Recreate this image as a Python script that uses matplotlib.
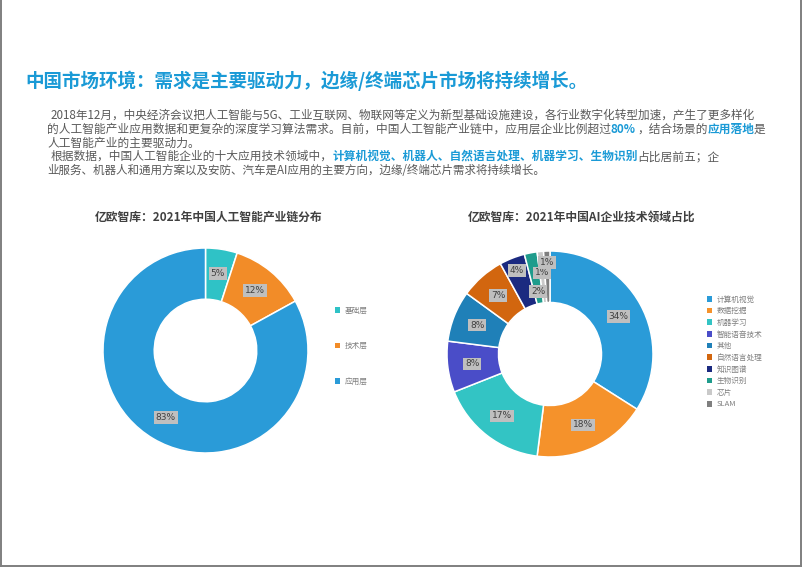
import matplotlib
matplotlib.use("Agg")
import matplotlib.pyplot as plt
from matplotlib.patches import Patch
from matplotlib.lines import Line2D
import numpy as np

plt.rcParams['font.family'] = ['Noto Sans CJK SC', 'DejaVu Sans']

W, H = 802, 567

# ---- data ----
chain_labels = ["基础层", "技术层", "应用层"]
chain_values = [5, 12, 83]
chain_colors = ["#2FC2C6", "#F28C28", "#2A9BD8"]

tech_labels = ["计算机视觉", "数据挖掘", "机器学习", "智能语音技术", "其他",
               "自然语言处理", "知识图谱", "生物识别", "芯片", "SLAM"]
tech_values = [34, 18, 17, 8, 8, 7, 4, 2, 1, 1]
tech_colors = ["#2A9BD8", "#F5922B", "#33C4C4", "#4A4DC8", "#1F80B8",
               "#D2660F", "#1B2A80", "#1F9C8C", "#C9C9C9", "#7F7F7F"]
# label radius (fraction of outer radius), tweaked for the small slices
tech_label_r = [0.76, 0.76, 0.76, 0.76, 0.76, 0.76, 0.87, 0.62, 0.79, 0.89]

title = "中国市场环境：需求是主要驱动力，边缘/终端芯片市场将持续增长。"
chart1_title = "亿欧智库：2021年中国人工智能产业链分布"
chart2_title = "亿欧智库：2021年中国AI企业技术领域占比"

# paragraph lines: list of (text, highlighted)
para = [
    [("2018年12月，中央经济会议把人工智能与5G、工业互联网、物联网等定义为新型基础设施建设，各行业数字化转型加速，产生了更多样化", False)],
    [("的人工智能产业应用数据和更复杂的深度学习算法需求。目前，中国人工智能产业链中，应用层企业比例超过", False),
     ("80%", True), ("，结合场景的", False), ("应用落地", True), ("是", False)],
    [("人工智能产业的主要驱动力。", False)],
    [("根据数据，中国人工智能企业的十大应用技术领域中，", False),
     ("计算机视觉、机器人、自然语言处理、机器学习、生物识别", True), ("占比居前五；企", False)],
    [("业服务、机器人和通用方案以及安防、汽车是AI应用的主要方向，边缘/终端芯片需求将持续增长。", False)],
]
para_x0 = [51, 47, 47, 51, 47]
para_x1 = [753, 760, None, 714, 545]
para_y = [115, 129.5, 143, 156.5, 170.5]

BLUE = "#1A9AD6"
GRAY = "#595959"

fig = plt.figure(figsize=(W / 100, H / 100), dpi=100)
fig.patch.set_facecolor("white")


def fx(x):
    return x / W


def fy(y):
    return 1 - y / H


# page frame (left, right, bottom)
for xs, ys in [([0.6, 0.6], [0, H]), ([W - 1.2, W - 1.2], [0, H]), ([0, W], [H - 1.2, H - 1.2])]:
    fig.add_artist(Line2D([fx(v) for v in xs], [fy(v) for v in ys], color="#7F7F7F", lw=1.4))

fig.text(fx(25), fy(81), title, fontsize=13.35, fontweight="bold", color=BLUE, va="center", ha="left")


def chain(texts, x0, y):
    renderer = fig.canvas.get_renderer()
    x = x0
    for t in texts:
        t.set_position((fx(x), fy(y)))
        bb = t.get_window_extent(renderer)
        x = bb.x1 - (0.4 if t.get_fontweight() == "bold" else 0.8)
        if t.get_text() == "80%":
            x += 3


base = 8.5
last_scale = 0.98
for segs, x0, x1, y in zip(para, para_x0, para_x1, para_y):
    texts = []
    for txt, hl in segs:
        texts.append(fig.text(0, 0, txt, va="center", ha="left", fontsize=base,
                              color=BLUE if hl else GRAY,
                              fontweight="bold" if hl else "normal"))
    chain(texts, x0, y)
    if x1 is not None:
        renderer = fig.canvas.get_renderer()
        width = texts[-1].get_window_extent(renderer).x1 - x0
        last_scale = (x1 - x0) / width
    for t in texts:
        t.set_fontsize(base * last_scale)
    chain(texts, x0, y)

fig.text(fx(209), fy(217), chart1_title, fontsize=8.5, fontweight="bold", color="#404040", ha="center", va="center")
fig.text(fx(582), fy(217), chart2_title, fontsize=8.5, fontweight="bold", color="#404040", ha="center", va="center")


def donut(cx, cy, r, values, colors, label_r):
    ax = fig.add_axes([fx(cx - r), fy(cy + r), 2 * r / W, 2 * r / H])
    wedges, _ = ax.pie(values, colors=colors, startangle=90, counterclock=False, radius=1,
                       wedgeprops=dict(width=0.5, edgecolor="white", linewidth=1.1))
    for w, v, lr in zip(wedges, values, label_r):
        ang = np.deg2rad((w.theta1 + w.theta2) / 2)
        ax.text(lr * np.cos(ang), lr * np.sin(ang), f"{v}%", ha="center", va="center",
                fontsize=6.5, color="#404040", family="DejaVu Sans",
                bbox=dict(boxstyle="square,pad=0.2", fc="#BFBFBF", ec="none"))
    ax.set_xlim(-1, 1)
    ax.set_ylim(-1, 1)
    ax.axis("off")
    return ax


ax1 = donut(205.5, 350.5, 102.5, chain_values, chain_colors, [0.76] * 3)
ax2 = donut(550, 354, 103, tech_values, tech_colors, tech_label_r)

h1 = [Patch(facecolor=c, edgecolor="none") for c in chain_colors]
fig.legend(h1, chain_labels, loc="upper left", bbox_to_anchor=(fx(335), fy(306.5)),
           frameon=False, fontsize=5.5, handlelength=0.7, handleheight=0.7, handletextpad=0.6,
           labelspacing=3.6, borderpad=0, borderaxespad=0, labelcolor="#808080")

h2 = [Patch(facecolor=c, edgecolor="none") for c in tech_colors]
fig.legend(h2, tech_labels, loc="upper left", bbox_to_anchor=(fx(707), fy(295.5)),
           frameon=False, fontsize=5.5, handlelength=0.7, handleheight=0.7, handletextpad=0.6,
           labelspacing=0.48, borderpad=0, borderaxespad=0, labelcolor="#808080")

fig.savefig("out.png", dpi=100, facecolor="white")
